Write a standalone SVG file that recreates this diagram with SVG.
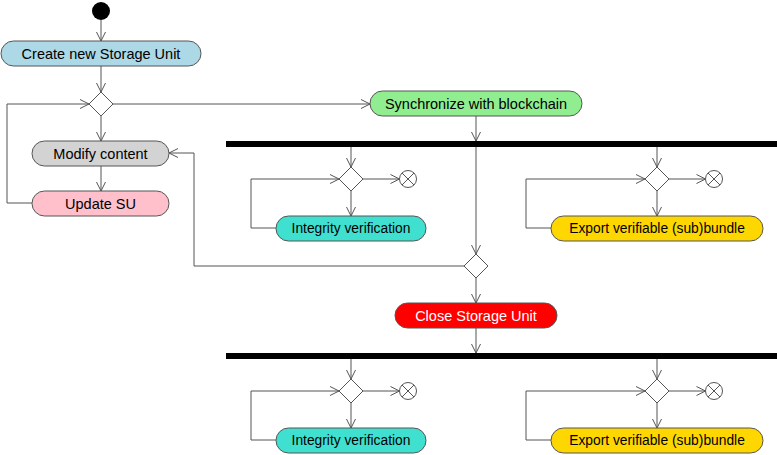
<svg xmlns="http://www.w3.org/2000/svg" width="777" height="455" viewBox="0 0 777 455">
<defs>
<marker id="arr" viewBox="-10 -6 12 12" refX="0" refY="0" markerWidth="12" markerHeight="12" markerUnits="userSpaceOnUse" orient="auto">
<path d="M-9,-4.5 L0,0 L-9,4.5" fill="none" stroke="#555" stroke-width="1"/>
</marker>
<symbol id="ff" overflow="visible">
<circle cx="0" cy="0" r="8.5" fill="#fff" stroke="#555"/>
<path d="M-6,-6 L6,6 M-6,6 L6,-6" stroke="#555"/>
</symbol>
</defs>
<style>
.n{stroke:#555;stroke-width:1}
.t{font-family:"Liberation Sans",Arial,sans-serif;font-size:14.5px;fill:#000;text-anchor:middle}
.s{font-size:13.8px}
.c{fill:none;stroke:#555;stroke-width:1}
.a{marker-end:url(#arr)}
.d{fill:#fff;stroke:#555;stroke-width:1}
.bar{fill:#000}
</style>
<rect width="777" height="455" fill="#fff"/>

<g id="connectors">
<path class="c a" d="M101,20 V41"/>
<path class="c a" d="M101,66 V92"/>
<path class="c a" d="M101,116 V141"/>
<path class="c a" d="M101,166 V191"/>
<path class="c a" d="M32,203 H7 V104 H89"/>
<path class="c a" d="M113,104 H370"/>
<path class="c a" d="M476,116 V141"/>
<path class="c a" d="M476,141 V254"/>
<path class="c a" d="M464,266 H194 V153 H169"/>
<path class="c a" d="M476,278 V303"/>
<path class="c a" d="M476,328 V353"/>
<!-- fork 1 -->
<path class="c a" d="M351,147 V167"/>
<path class="c a" d="M363,179 H399.5"/>
<path class="c a" d="M351,191 V216"/>
<path class="c a" d="M276,228 H251 V179 H339"/>
<path class="c a" d="M657,147 V167"/>
<path class="c a" d="M669,179 H705.5"/>
<path class="c a" d="M657,191 V216"/>
<path class="c a" d="M551,228 H526 V179 H645"/>
<!-- fork 2 -->
<path class="c a" d="M351,359 V379"/>
<path class="c a" d="M363,391 H399.5"/>
<path class="c a" d="M351,403 V428"/>
<path class="c a" d="M276,440 H251 V391 H339"/>
<path class="c a" d="M657,359 V379"/>
<path class="c a" d="M669,391 H705.5"/>
<path class="c a" d="M657,403 V428"/>
<path class="c a" d="M551,440 H526 V391 H645"/>
</g>

<g id="start"><circle cx="101" cy="11" r="9" fill="#000"/></g>

<g id="create"><rect class="n" x="1" y="41" width="200" height="25" rx="12.5" fill="#ADD8E6"/><text class="t" x="101" y="58.5">Create new Storage Unit</text></g>

<g id="decision1"><path class="d" d="M101,92 L113,104 L101,116 L89,104 Z"/></g>

<g id="modify"><rect class="n" x="32" y="141" width="137" height="25" rx="12.5" fill="#D3D3D3"/><text class="t" x="100.5" y="158.5">Modify content</text></g>

<g id="update"><rect class="n" x="32" y="191" width="137" height="25" rx="12.5" fill="#FFC0CB"/><text class="t" x="100.5" y="208.5">Update SU</text></g>

<g id="sync"><rect class="n" x="370" y="91" width="212" height="25" rx="12.5" fill="#90EE90"/><text class="t" x="476" y="108.5">Synchronize with blockchain</text></g>

<g id="fork1"><rect class="bar" x="226" y="141" width="551" height="6"/></g>

<g id="decision2"><path class="d" d="M351,167 L363,179 L351,191 L339,179 Z"/></g>
<g id="final1"><use href="#ff" x="408" y="179"/></g>
<g id="integrity1"><rect class="n" x="276" y="216" width="150" height="25" rx="12.5" fill="#40E0D0"/><text class="t s" x="351" y="233">Integrity verification</text></g>

<g id="decision3"><path class="d" d="M657,167 L669,179 L657,191 L645,179 Z"/></g>
<g id="final2"><use href="#ff" x="714" y="179"/></g>
<g id="export1"><rect class="n" x="551" y="216" width="212" height="25" rx="12.5" fill="#FFD700"/><text class="t s" x="657" y="233">Export verifiable (sub)bundle</text></g>

<g id="decision4"><path class="d" d="M476,254 L488,266 L476,278 L464,266 Z"/></g>

<g id="close"><rect class="n" x="395" y="303" width="162" height="25" rx="12.5" fill="#FF0000"/><text class="t" x="476" y="320.5" fill="#fff" style="fill:#fff">Close Storage Unit</text></g>

<g id="fork2"><rect class="bar" x="226" y="353" width="551" height="6"/></g>

<g id="decision5"><path class="d" d="M351,379 L363,391 L351,403 L339,391 Z"/></g>
<g id="final3"><use href="#ff" x="408" y="391"/></g>
<g id="integrity2"><rect class="n" x="276" y="428" width="150" height="25" rx="12.5" fill="#40E0D0"/><text class="t s" x="351" y="445">Integrity verification</text></g>

<g id="decision6"><path class="d" d="M657,379 L669,391 L657,403 L645,391 Z"/></g>
<g id="final4"><use href="#ff" x="714" y="391"/></g>
<g id="export2"><rect class="n" x="551" y="428" width="212" height="25" rx="12.5" fill="#FFD700"/><text class="t s" x="657" y="445">Export verifiable (sub)bundle</text></g>
</svg>
